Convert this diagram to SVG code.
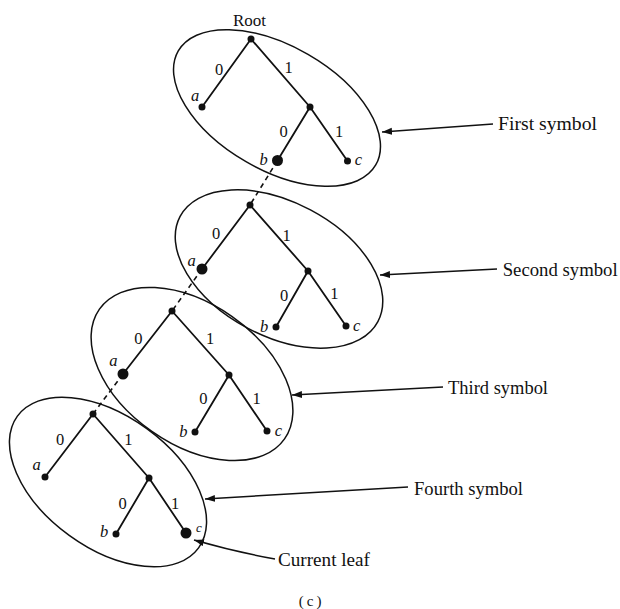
<svg xmlns="http://www.w3.org/2000/svg" width="620" height="609" viewBox="0 0 620 609">
  <style>
    .edge { stroke: #111; stroke-width: 1.8; fill: none; stroke-linecap: round; }
    .ell { stroke: #111; stroke-width: 1.5; fill: none; }
    .dash { stroke: #111; stroke-width: 1.6; fill: none; stroke-dasharray: 5 4; }
    .ptr { stroke: #111; stroke-width: 1.5; fill: none; }
    .node { fill: #111; }
    .lbl { font-family: "Liberation Serif", "Times New Roman", serif; font-size: 16.5px; fill: #111; text-anchor: middle; }
    .it { font-style: italic; }
    .cap { font-family: "Liberation Serif", "Times New Roman", serif; font-size: 19px; fill: #111; }
  </style>
  <defs>
    <marker id="tip" markerWidth="11" markerHeight="8" refX="10" refY="3.5" orient="auto" markerUnits="userSpaceOnUse">
      <path d="M0,0 L10,3.5 L0,7 z" fill="#111"/>
    </marker>
  </defs>

  <!-- Ellipses enclosing each stage of the traversal -->
  <g id="ellipses">
    <ellipse class="ell" cx="277" cy="108" rx="114" ry="62" transform="rotate(30 277 108)"/>
    <ellipse class="ell" cx="279" cy="269" rx="112" ry="67" transform="rotate(28 279 269)"/>
    <ellipse class="ell" cx="192" cy="374" rx="113" ry="70" transform="rotate(35 192 374)"/>
    <ellipse class="ell" cx="108" cy="482" rx="112" ry="66" transform="rotate(36 108 482)"/>
  </g>

  <!-- Connectors: dashed links between stages and label pointers -->
  <g id="connectors">
    <line class="dash" x1="277.5" y1="160.5" x2="250" y2="205"/>
    <line class="dash" x1="202" y1="269" x2="172" y2="311"/>
    <line class="dash" x1="123" y1="374" x2="93" y2="414"/>
    <line class="ptr" x1="493" y1="124" x2="382" y2="132" marker-end="url(#tip)"/>
    <line class="ptr" x1="497" y1="269" x2="380" y2="275" marker-end="url(#tip)"/>
    <line class="ptr" x1="443" y1="387" x2="292" y2="395" marker-end="url(#tip)"/>
    <line class="ptr" x1="408" y1="487" x2="205" y2="499" marker-end="url(#tip)"/>
    <path class="ptr" d="M275,559 Q236,552 194,540" marker-end="url(#tip)"/>
  </g>

  <!-- Stage 1 -->
  <g id="tree1">
    <path class="edge" d="M251,39 L202,107 M251,39 L310,107 L277.5,160.5 M310,107 L347.5,161"/>
    <circle class="node" cx="251" cy="39" r="3.5"/>
    <circle class="node" cx="202" cy="107" r="3.5"/>
    <circle class="node" cx="310" cy="107" r="3.5"/>
    <circle class="node" cx="277.5" cy="160.5" r="5.5"/>
    <circle class="node" cx="347.5" cy="161" r="3.5"/>
    <text class="lbl" x="249.5" y="26" style="font-size:17px">Root</text>
    <text class="lbl" x="219" y="74.5">0</text>
    <text class="lbl" x="288.5" y="73">1</text>
    <text class="lbl it" x="195" y="101">a</text>
    <text class="lbl" x="283.5" y="136.5">0</text>
    <text class="lbl" x="339" y="136.5">1</text>
    <text class="lbl it" x="263.5" y="165">b</text>
    <text class="lbl it" x="358.5" y="165">c</text>
  </g>

  <!-- Stage 2 -->
  <g id="tree2">
    <path class="edge" d="M250,205 L202,269 M250,205 L308,271 L276,327 M308,271 L346,326"/>
    <circle class="node" cx="250" cy="205" r="3.5"/>
    <circle class="node" cx="202" cy="269" r="5.5"/>
    <circle class="node" cx="308" cy="271" r="3.5"/>
    <circle class="node" cx="276" cy="327" r="3.5"/>
    <circle class="node" cx="346" cy="326" r="3.5"/>
    <text class="lbl" x="216" y="238.5">0</text>
    <text class="lbl" x="286.7" y="240.5">1</text>
    <text class="lbl it" x="191.7" y="265.5">a</text>
    <text class="lbl" x="284" y="300.5">0</text>
    <text class="lbl" x="334.3" y="298.7">1</text>
    <text class="lbl it" x="264" y="332">b</text>
    <text class="lbl it" x="356.7" y="330.5">c</text>
  </g>

  <!-- Stage 3 -->
  <g id="tree3">
    <path class="edge" d="M172,311 L123,374 M172,311 L229,375 L195,432 M229,375 L267,431"/>
    <circle class="node" cx="172" cy="311" r="3.5"/>
    <circle class="node" cx="123" cy="374" r="5.5"/>
    <circle class="node" cx="229" cy="375" r="3.5"/>
    <circle class="node" cx="195" cy="432" r="3.5"/>
    <circle class="node" cx="267" cy="431" r="3.5"/>
    <text class="lbl" x="138.3" y="343.7">0</text>
    <text class="lbl" x="210" y="343.7">1</text>
    <text class="lbl it" x="113.3" y="365.5">a</text>
    <text class="lbl" x="203.3" y="403.7">0</text>
    <text class="lbl" x="256.7" y="403.7">1</text>
    <text class="lbl it" x="183.3" y="437">b</text>
    <text class="lbl it" x="278.3" y="435.5">c</text>
  </g>

  <!-- Stage 4 -->
  <g id="tree4">
    <path class="edge" d="M93,414 L45,477 M93,414 L149,478 L116,534 M149,478 L186,533"/>
    <circle class="node" cx="93" cy="414" r="3.5"/>
    <circle class="node" cx="45" cy="477" r="3.5"/>
    <circle class="node" cx="149" cy="478" r="3.5"/>
    <circle class="node" cx="116" cy="534" r="3.5"/>
    <circle class="node" cx="186" cy="533" r="5.5"/>
    <text class="lbl" x="60" y="445.4">0</text>
    <text class="lbl" x="128.3" y="444.7">1</text>
    <text class="lbl it" x="36.7" y="470">a</text>
    <text class="lbl" x="122.7" y="508.7">0</text>
    <text class="lbl" x="175" y="508.7">1</text>
    <text class="lbl it" x="104" y="537">b</text>
    <text class="lbl it" x="199" y="531.5" style="font-size:13px">c</text>
  </g>

  <!-- Stage captions -->
  <g id="captions">
    <text class="cap" x="498" y="130" textLength="99" lengthAdjust="spacingAndGlyphs">First symbol</text>
    <text class="cap" x="502.7" y="276" textLength="115" lengthAdjust="spacingAndGlyphs">Second symbol</text>
    <text class="cap" x="448" y="393.5" textLength="100" lengthAdjust="spacingAndGlyphs">Third symbol</text>
    <text class="cap" x="414" y="495" textLength="109" lengthAdjust="spacingAndGlyphs">Fourth symbol</text>
    <text class="cap" x="278" y="565.5" textLength="92" lengthAdjust="spacingAndGlyphs">Current leaf</text>
    <text class="lbl" x="311.7" y="606" style="font-size:15px; letter-spacing:3px">(c)</text>
  </g>
</svg>
